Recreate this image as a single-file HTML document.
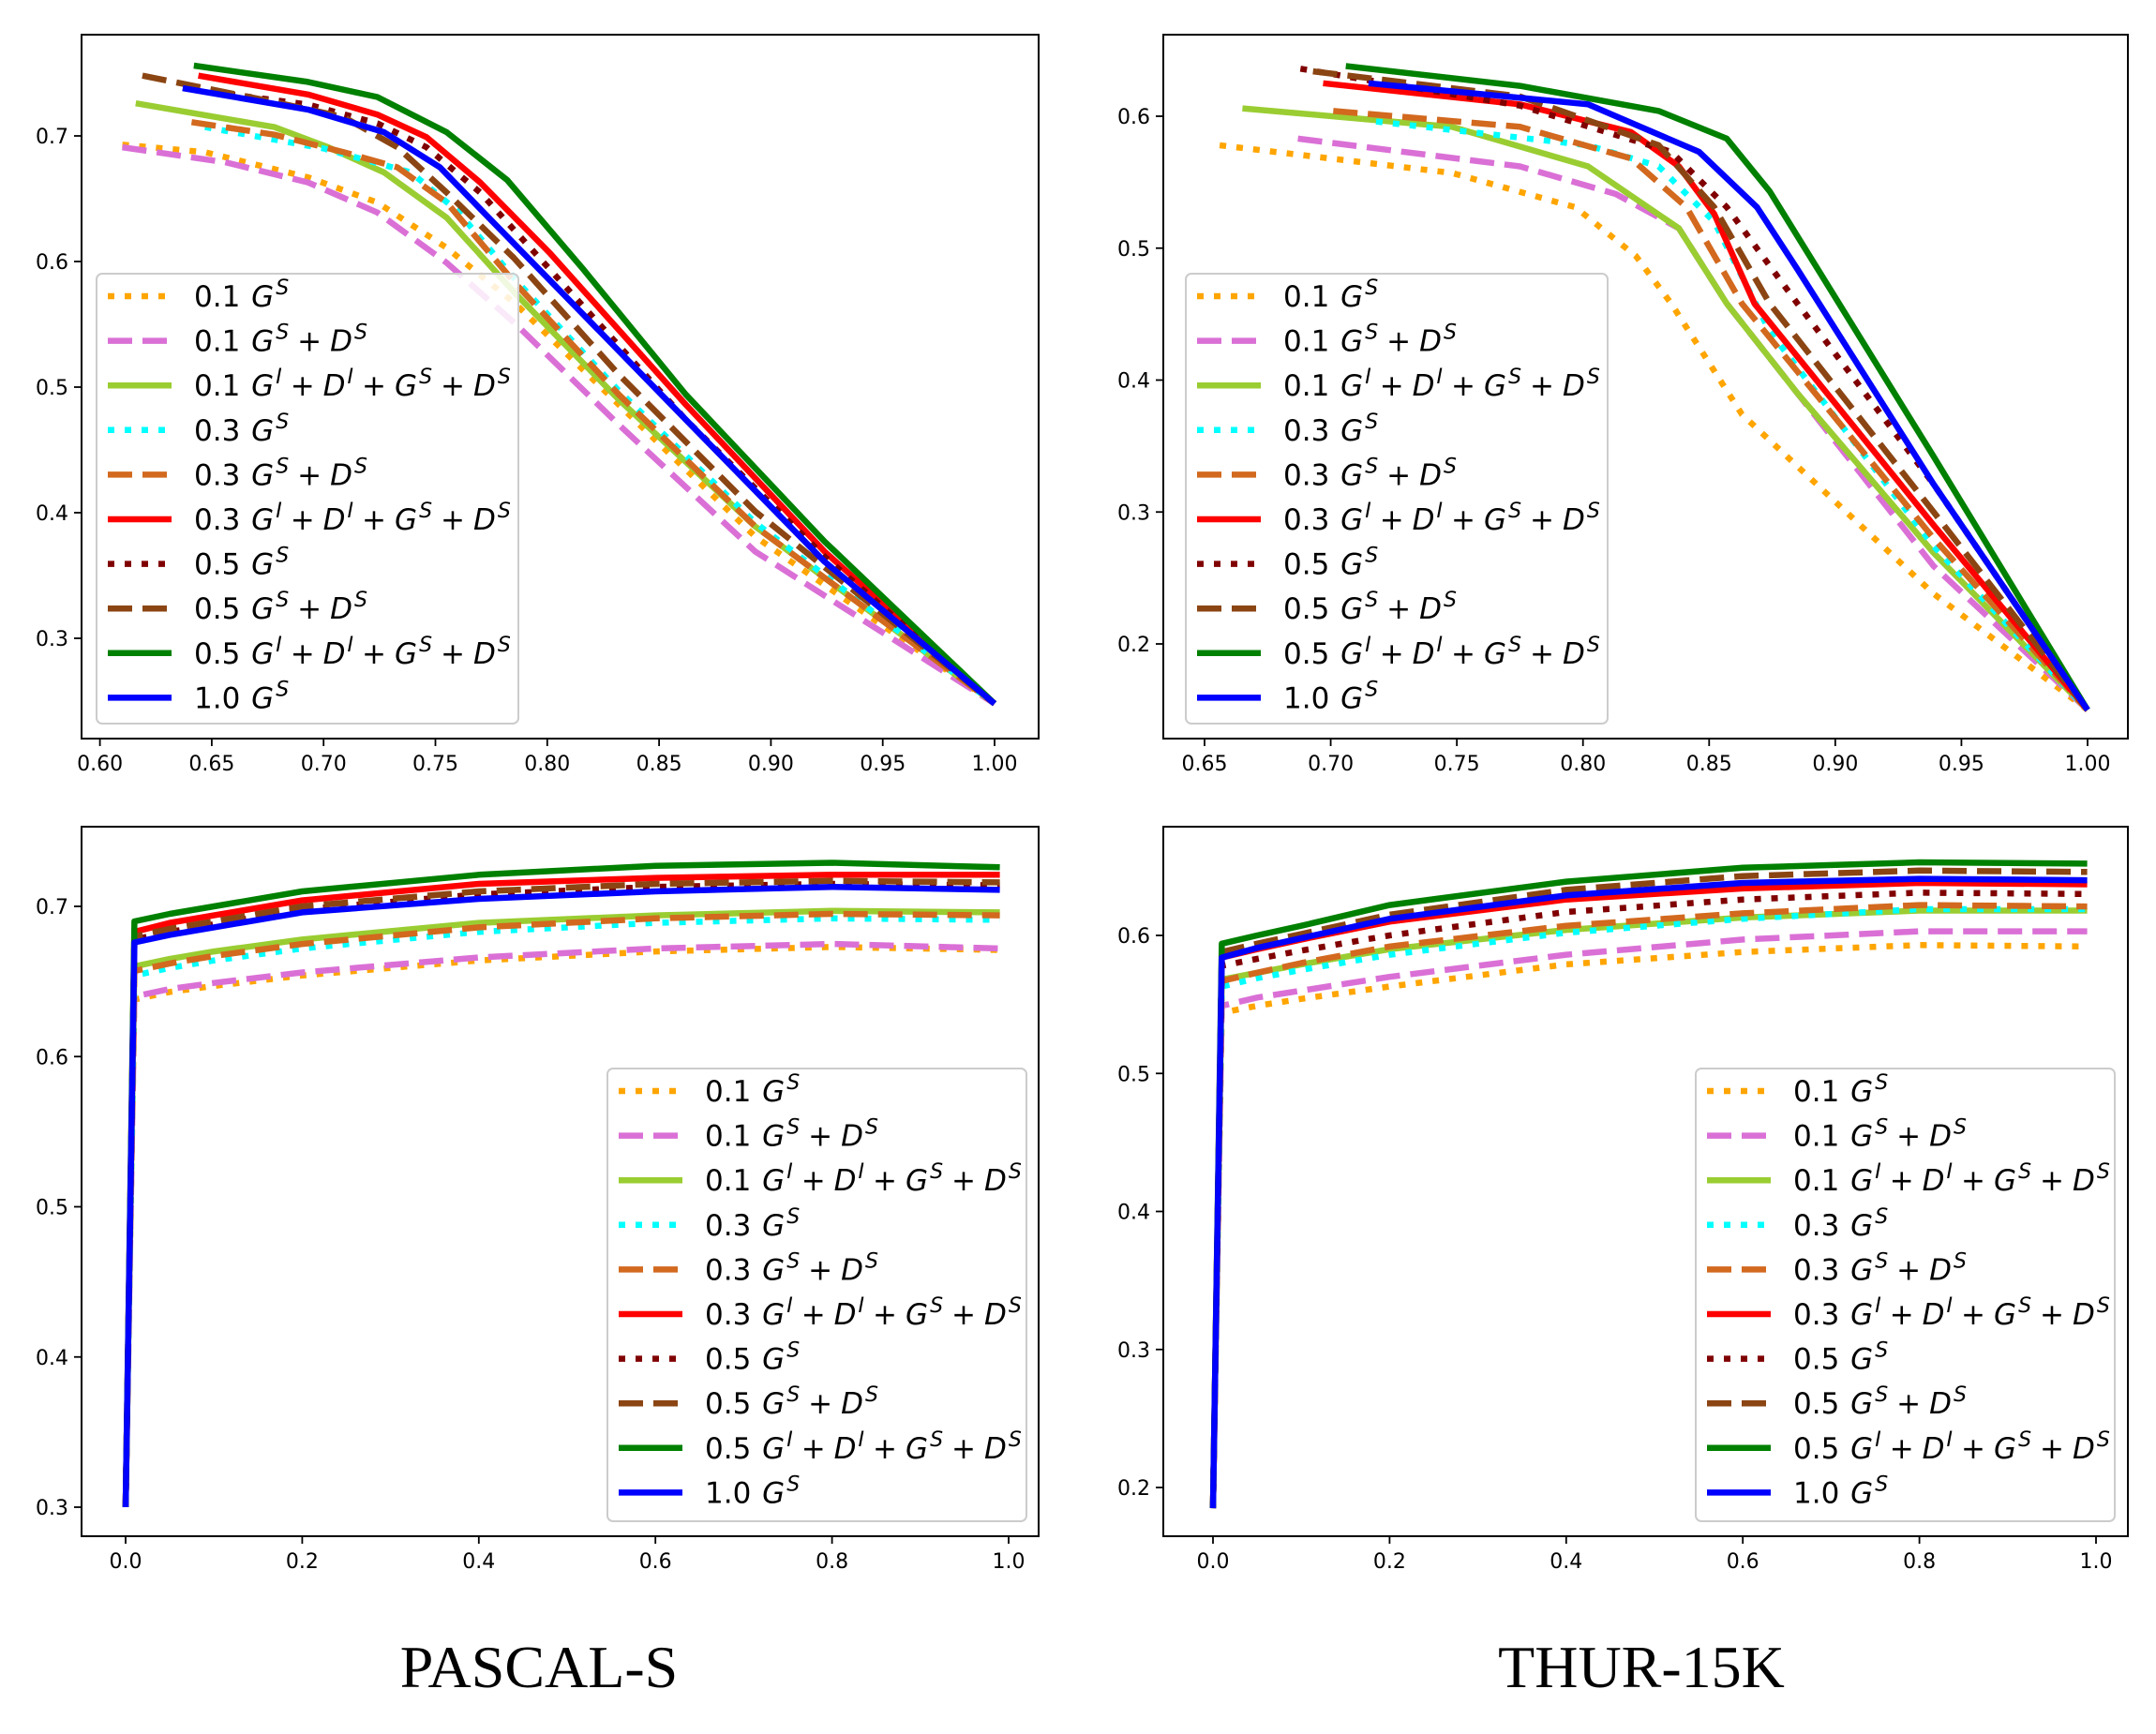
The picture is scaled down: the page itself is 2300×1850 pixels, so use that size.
<!DOCTYPE html>
<html><head><meta charset="utf-8">
<style>
html,body{margin:0;padding:0;background:#fff;}
svg{display:block;font-family:"DejaVu Sans","Liberation Sans",sans-serif;}
</style></head>
<body>
<svg id="fig" width="2300" height="1850" viewBox="0 0 2300 1850" xmlns="http://www.w3.org/2000/svg">
<text x="575" y="1800" font-family="Liberation Serif, serif" font-size="64" text-anchor="middle">PASCAL-S</text>
<text x="1751" y="1800" font-family="Liberation Serif, serif" font-size="64" text-anchor="middle">THUR-15K</text>
</svg>
<script>
// ---------- data ----------
const seriesLabels = ["0.1 GS","0.1 GS+DS","0.1 GI+DI+GS+DS","0.3 GS","0.3 GS+DS","0.3 GI+DI+GS+DS","0.5 GS","0.5 GS+DS","0.5 GI+DI+GS+DS","1.0 GS"];
const seriesColors = ["#ffa500","#da70d6","#9acd32","#00ffff","#d2691e","#ff0000","#800000","#8b4513","#008000","#0000ff"];
const seriesStyles = ["dot","dash","solid","dot","dash","solid","dot","dash","solid","solid"];

// Top-left (PASCAL-S, precision-recall)
const tlX0=[0.610,0.647,0.693,0.724,0.755,0.786,0.832,0.893,1.0];
const tlY0=[0.693,0.687,0.667,0.647,0.611,0.566,0.486,0.381,0.248];
const tlX1=[0.610,0.656,0.693,0.724,0.755,0.786,0.832,0.893,1.0];
const tlY1=[0.691,0.679,0.663,0.639,0.599,0.550,0.470,0.369,0.248];
const tlX2=[0.616,0.678,0.702,0.727,0.755,0.786,0.832,0.893,1.0];
const tlY2=[0.726,0.707,0.691,0.671,0.635,0.574,0.490,0.389,0.248];
const tlX3=[0.647,0.700,0.739,0.760,0.786,0.832,0.893,1.0];
const tlY3=[0.707,0.690,0.671,0.640,0.585,0.497,0.392,0.248];
const tlX4=[0.641,0.678,0.709,0.733,0.755,0.786,0.832,0.893,1.0];
const tlY4=[0.711,0.701,0.687,0.675,0.647,0.582,0.494,0.389,0.248];
const tlX5=[0.644,0.693,0.724,0.746,0.770,0.801,0.862,0.924,1.0];
const tlY5=[0.748,0.733,0.717,0.699,0.663,0.607,0.486,0.369,0.248];
const tlX6=[0.650,0.693,0.724,0.746,0.770,0.801,0.862,0.924,1.0];
const tlY6=[0.735,0.725,0.710,0.691,0.655,0.594,0.474,0.365,0.248];
const tlX7=[0.619,0.678,0.709,0.733,0.755,0.785,0.832,0.893,1.0];
const tlY7=[0.748,0.727,0.715,0.691,0.655,0.603,0.510,0.401,0.248];
const tlX8=[0.642,0.693,0.724,0.755,0.782,0.816,0.862,0.924,1.0];
const tlY8=[0.756,0.743,0.731,0.703,0.665,0.594,0.494,0.377,0.248];
const tlX9=[0.637,0.693,0.727,0.752,0.776,0.816,0.862,0.924,1.0];
const tlY9=[0.738,0.721,0.703,0.675,0.631,0.558,0.474,0.361,0.248];

// Top-right (THUR-15K, precision-recall)
const trX0=[0.656,0.748,0.797,0.821,0.835,0.863,0.939,1.0];
const trY0=[0.578,0.557,0.531,0.494,0.458,0.374,0.238,0.150];
const trX1=[0.687,0.775,0.813,0.838,0.857,0.939,1.0];
const trY1=[0.583,0.562,0.541,0.515,0.458,0.259,0.150];
const trX2=[0.665,0.748,0.802,0.838,0.857,0.885,0.939,1.0];
const trY2=[0.606,0.592,0.562,0.515,0.458,0.390,0.269,0.150];
const trX3=[0.718,0.802,0.830,0.852,0.874,0.939,1.0];
const trY3=[0.596,0.578,0.562,0.520,0.437,0.274,0.150];
const trX4=[0.701,0.775,0.819,0.841,0.863,0.939,1.0];
const trY4=[0.604,0.592,0.568,0.531,0.458,0.280,0.150];
const trX5=[0.697,0.775,0.819,0.838,0.852,0.868,0.939,1.0];
const trY5=[0.625,0.609,0.588,0.562,0.526,0.458,0.290,0.150];
const trX6=[0.688,0.775,0.835,0.857,0.885,0.939,1.0];
const trY6=[0.636,0.608,0.573,0.531,0.458,0.321,0.150];
const trX7=[0.693,0.775,0.830,0.852,0.874,0.939,1.0];
const trY7=[0.634,0.615,0.578,0.531,0.458,0.300,0.150];
const trX8=[0.706,0.775,0.830,0.857,0.874,0.939,1.0];
const trY8=[0.638,0.623,0.604,0.583,0.543,0.342,0.150];
const trX9=[0.715,0.802,0.846,0.869,0.885,0.939,1.0];
const trY9=[0.625,0.609,0.573,0.531,0.484,0.321,0.150];

// Bottom panels (F-measure vs threshold)
const botX=[0,0.01,0.05,0.1,0.2,0.4,0.6,0.8,0.99];
const blY0=[0.3,0.638,0.643,0.647,0.654,0.664,0.670,0.673,0.671];
const blY1=[0.3,0.640,0.645,0.649,0.656,0.666,0.672,0.675,0.672];
const blY2=[0.3,0.660,0.665,0.670,0.678,0.689,0.694,0.697,0.696];
const blY3=[0.3,0.654,0.659,0.664,0.672,0.683,0.689,0.692,0.691];
const blY4=[0.3,0.657,0.662,0.667,0.675,0.686,0.692,0.695,0.694];
const blY5=[0.3,0.683,0.689,0.694,0.704,0.715,0.719,0.721,0.721];
const blY6=[0.3,0.678,0.683,0.688,0.698,0.708,0.713,0.715,0.714];
const blY7=[0.3,0.680,0.685,0.690,0.700,0.710,0.715,0.717,0.716];
const blY8=[0.3,0.690,0.695,0.700,0.710,0.721,0.727,0.729,0.726];
const blY9=[0.3,0.676,0.681,0.686,0.696,0.705,0.710,0.713,0.711];

const brY0=[0.185,0.544,0.549,0.554,0.563,0.579,0.588,0.593,0.592];
const brY1=[0.185,0.549,0.555,0.560,0.570,0.586,0.597,0.603,0.603];
const brY2=[0.185,0.568,0.573,0.579,0.590,0.604,0.613,0.618,0.618];
const brY3=[0.185,0.563,0.569,0.575,0.586,0.602,0.612,0.619,0.619];
const brY4=[0.185,0.567,0.573,0.580,0.592,0.607,0.616,0.622,0.621];
const brY5=[0.185,0.584,0.590,0.597,0.610,0.626,0.634,0.638,0.637];
const brY6=[0.185,0.578,0.583,0.589,0.600,0.617,0.626,0.631,0.630];
const brY7=[0.185,0.588,0.594,0.601,0.615,0.633,0.643,0.647,0.646];
const brY8=[0.185,0.594,0.600,0.607,0.622,0.639,0.649,0.653,0.652];
const brY9=[0.185,0.584,0.591,0.598,0.612,0.629,0.638,0.641,0.640];

const tlXTicks=[0.60,0.65,0.70,0.75,0.80,0.85,0.90,0.95,1.00];
const tlYTicks=[0.3,0.4,0.5,0.6,0.7];
const trXTicks=[0.65,0.70,0.75,0.80,0.85,0.90,0.95,1.00];
const trYTicks=[0.2,0.3,0.4,0.5,0.6];
const blXTicks=[0.0,0.2,0.4,0.6,0.8,1.0];
const blYTicks=[0.3,0.4,0.5,0.6,0.7];
const brXTicks=[0.0,0.2,0.4,0.6,0.8,1.0];
const brYTicks=[0.2,0.3,0.4,0.5,0.6];

// ---------- drawing ----------
const NS="http://www.w3.org/2000/svg";
const svg=document.getElementById('fig');
function mk(tag,attrs,parent){const e=document.createElementNS(NS,tag);for(const k in attrs)e.setAttribute(k,attrs[k]);(parent||svg).appendChild(e);return e;}

function addLabel(t,label){
  const sp=label.indexOf(' ');
  const num=label.slice(0,sp), rest=label.slice(sp+1);
  const a=mk('tspan',{},t); a.textContent=num+' ';
  const terms=rest.split('+');
  terms.forEach((term,i)=>{
    if(i>0){const p=mk('tspan',{dx:'9'},t);p.textContent='+';}
    const b=mk('tspan',{'font-style':'italic',dx:i>0?'9':'2'},t);b.textContent=term[0];
    const s=mk('tspan',{'font-style':'italic','font-size':'22',dy:'-13',dx:'2'},t);s.textContent=term[1];
    const r=mk('tspan',{dy:'13','font-size':'1'},t);r.textContent='\u200b';
  });
}

function dashFor(style){
  if(style==='dot') return '7,11';
  if(style==='dash') return '26,11';
  return '';
}

function panel(p){
  const g=mk('g',{});
  
  
  const sx=v=>p.x0px+(v-p.xv0)*(p.x1px-p.x0px)/(p.xv1-p.xv0);
  const sy=v=>p.y0px+(v-p.yv0)*(p.y1px-p.y0px)/(p.yv1-p.yv0);
  const cid='clip-'+p.name;
  const cp=mk('clipPath',{id:cid},g);
  mk('rect',{x:p.L,y:p.T,width:p.R-p.L,height:p.B-p.T},cp);
  const lines=mk('g',{'clip-path':'url(#'+cid+')'},g);
  for(let i=0;i<10;i++){
    const xs=p.xs[i], ys=p.ys[i];
    let d='';
    for(let j=0;j<xs.length;j++) d+=(j?'L':'M')+sx(xs[j]).toFixed(1)+','+sy(ys[j]).toFixed(1);
    const path=mk('path',{d:d,fill:'none',stroke:seriesColors[i],'stroke-width':'6.5','stroke-linejoin':'round'},lines);
    const da=dashFor(seriesStyles[i]); if(da) path.setAttribute('stroke-dasharray',da);
    
    
  }
  const frame=mk('rect',{x:p.L,y:p.T,width:p.R-p.L,height:p.B-p.T,fill:'none',stroke:'#000','stroke-width':'2'},g);
  
  
  p.xt.forEach(v=>{
    const x=sx(v);
    mk('line',{x1:x,x2:x,y1:p.B,y2:p.B+8,stroke:'#000','stroke-width':'1.8'},g);
    const t=mk('text',{x:x,y:p.B+34,'font-size':'22','text-anchor':'middle'},g);
    t.textContent=v.toFixed(p.xdec);
    
    
  });
  p.yt.forEach(v=>{
    const y=sy(v);
    mk('line',{x1:p.L-8,x2:p.L,y1:y,y2:y,stroke:'#000','stroke-width':'1.8'},g);
    const t=mk('text',{x:p.L-14,y:y+8,'font-size':'22','text-anchor':'end'},g);
    t.textContent=v.toFixed(1);
    
    
  });
  const lg=mk('g',{},g);
  
  
  mk('rect',{x:p.lx,y:p.ly,width:p.lw,height:p.lh,rx:6,fill:'#fff','fill-opacity':'0.85',stroke:'#cccccc','stroke-width':'2'},lg);
  for(let i=0;i<10;i++){
    const cy=p.ly+24+i*47.6;
    const e=mk('g',{},lg);
    
    
    const hl=mk('line',{x1:p.lx+12,x2:p.lx+80,y1:cy,y2:cy,stroke:seriesColors[i],'stroke-width':'6.5'},e);
    const da=dashFor(seriesStyles[i]); if(da) hl.setAttribute('stroke-dasharray',da);
    const t=mk('text',{x:p.lx+104,y:cy+11,'font-size':'31'},e);
    addLabel(t,seriesLabels[i]);
  }
}

panel({name:'pascal-pr-chart',L:87,R:1108,T:37,B:788,
  xv0:0.6,xv1:1.0,x0px:106.6,x1px:1061,yv0:0.7,yv1:0.6,y0px:145,y1px:279,
  xs:[tlX0,tlX1,tlX2,tlX3,tlX4,tlX5,tlX6,tlX7,tlX8,tlX9],
  ys:[tlY0,tlY1,tlY2,tlY3,tlY4,tlY5,tlY6,tlY7,tlY8,tlY9],
  xt:tlXTicks,yt:tlYTicks,xdec:2,lx:103,ly:292,lw:450,lh:480});
panel({name:'thur-pr-chart',L:1241,R:2270,T:37,B:788,
  xv0:0.65,xv1:1.0,x0px:1285,x1px:2227,yv0:0.6,yv1:0.2,y0px:124,y1px:687,
  xs:[trX0,trX1,trX2,trX3,trX4,trX5,trX6,trX7,trX8,trX9],
  ys:[trY0,trY1,trY2,trY3,trY4,trY5,trY6,trY7,trY8,trY9],
  xt:trXTicks,yt:trYTicks,xdec:2,lx:1265,ly:292,lw:450,lh:480});
panel({name:'pascal-fmeasure-chart',L:87,R:1108,T:882,B:1639,
  xv0:0,xv1:1,x0px:134,x1px:1076,yv0:0.7,yv1:0.3,y0px:967,y1px:1608,
  xs:[botX,botX,botX,botX,botX,botX,botX,botX,botX,botX],
  ys:[blY0,blY1,blY2,blY3,blY4,blY5,blY6,blY7,blY8,blY9],
  xt:blXTicks,yt:blYTicks,xdec:1,lx:648,ly:1140,lw:447,lh:483});
panel({name:'thur-fmeasure-chart',L:1241,R:2270,T:882,B:1639,
  xv0:0,xv1:1,x0px:1294,x1px:2236,yv0:0.6,yv1:0.2,y0px:998,y1px:1587,
  xs:[botX,botX,botX,botX,botX,botX,botX,botX,botX,botX],
  ys:[brY0,brY1,brY2,brY3,brY4,brY5,brY6,brY7,brY8,brY9],
  xt:brXTicks,yt:brYTicks,xdec:1,lx:1809,ly:1140,lw:447,lh:483});
</script>
</body></html>
